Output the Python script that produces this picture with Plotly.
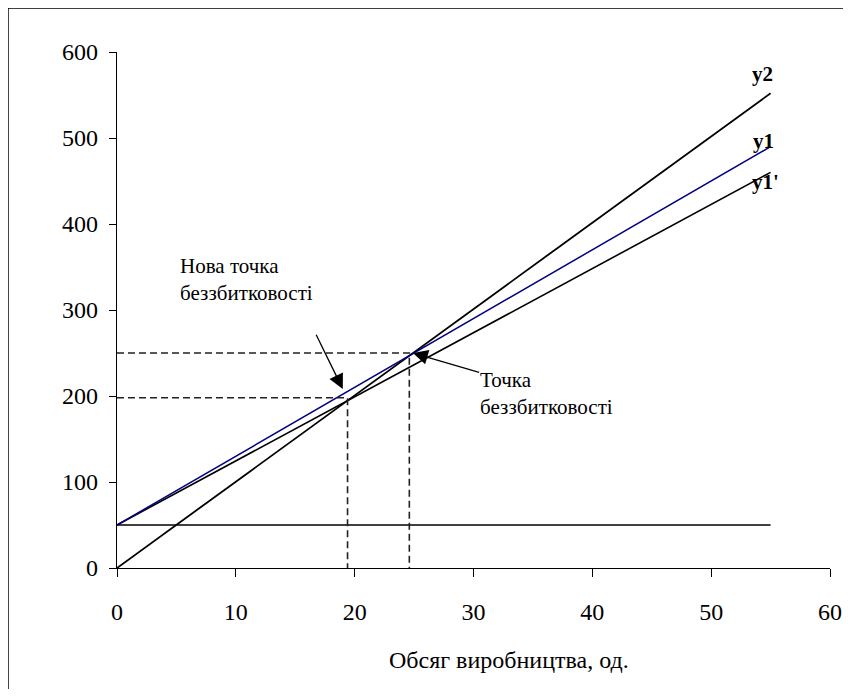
import plotly.graph_objects as go

# values
line_x = [0, 55]
fixed_costs = [50, 50]
y2 = [0, 552]
y1 = [50, 490]
y1_new = [50, 460]

break_even = (24.6, 250)
new_break_even = (19.4, 198)

x_ticks = [0, 10, 20, 30, 40, 50, 60]
y_ticks = [0, 100, 200, 300, 400, 500, 600]

serif = "Liberation Serif, Times New Roman, serif"

fig = go.Figure()

fig.add_trace(go.Scatter(x=line_x, y=fixed_costs, mode="lines",
                         line=dict(color="black", width=1.6), hoverinfo="skip"))
fig.add_trace(go.Scatter(x=line_x, y=y2, mode="lines",
                         line=dict(color="black", width=1.8), hoverinfo="skip"))
fig.add_trace(go.Scatter(x=line_x, y=y1_new, mode="lines",
                         line=dict(color="black", width=1.6), hoverinfo="skip"))
fig.add_trace(go.Scatter(x=line_x, y=y1, mode="lines",
                         line=dict(color="#000080", width=1.5), hoverinfo="skip"))

# dashed guide lines to the break-even points
for bx, by in [break_even, new_break_even]:
    fig.add_trace(go.Scatter(x=[0, bx, bx], y=[by, by, 0], mode="lines",
                             line=dict(color="#222222", width=1.6, dash="7px,4px"),
                             hoverinfo="skip"))

# line labels
labels = [("y2", 54.3, 575), ("y1", 54.4, 496), ("y1'", 54.6, 449)]
for txt, lx, ly in labels:
    fig.add_annotation(x=lx, y=ly, text="<b>" + txt + "</b>", showarrow=False,
                       font=dict(family=serif, size=21, color="black"))

# text callouts
fig.add_annotation(x=5.1, y=335, text="Нова точка<br>беззбитковості", showarrow=False,
                   xanchor="left", align="left", font=dict(family=serif, size=21, color="black"))
fig.add_annotation(x=30.4, y=203, text="Точка<br>беззбитковості", showarrow=False,
                   xanchor="left", align="left", font=dict(family=serif, size=21, color="black"))

# arrows
fig.add_annotation(x=19.0, y=208, ax=16.7, ay=273, axref="x", ayref="y", text="",
                   showarrow=True, arrowhead=2, arrowsize=2.3, arrowwidth=1.3, arrowcolor="black")
fig.add_annotation(x=24.9, y=250, ax=30.6, ay=227, axref="x", ayref="y", text="",
                   showarrow=True, arrowhead=2, arrowsize=2.3, arrowwidth=1.3, arrowcolor="black")

# x axis title (sits right of the plot centre in the original)
fig.add_annotation(x=33, y=-0.178, xref="x", yref="paper", text="Обсяг виробництва, од.",
                   showarrow=False, yanchor="middle",
                   font=dict(family=serif, size=24, color="black"))

# frame around the picture (only left and top edges fall inside the window)
fig.add_shape(type="rect", xref="paper", yref="paper",
              x0=-0.1529, y0=-0.30, x1=1.05, y1=1.0853,
              line=dict(color="black", width=1.5))

fig.update_xaxes(
    range=[0, 60], tickvals=x_ticks, showline=True, linecolor="black", linewidth=1.2,
    ticks="outside", ticklen=8, tickcolor="black", showgrid=False, zeroline=False,
    tickfont=dict(family=serif, size=24, color="black"), ticklabelstandoff=14,
)
fig.update_yaxes(
    range=[0, 600], tickvals=y_ticks, showline=True, linecolor="black", linewidth=1.2,
    ticks="outside", ticklen=7, tickcolor="black", showgrid=False, zeroline=False,
    tickfont=dict(family=serif, size=24, color="black"), ticklabelstandoff=6,
)

# the page body adds an 8px margin, so the figure is a bit smaller than the window
fig.update_layout(
    width=835, height=681, showlegend=False,
    margin=dict(l=109, r=13, t=44, b=121, autoexpand=False),
    paper_bgcolor="white", plot_bgcolor="white",
)

fig.write_html("out.html")
